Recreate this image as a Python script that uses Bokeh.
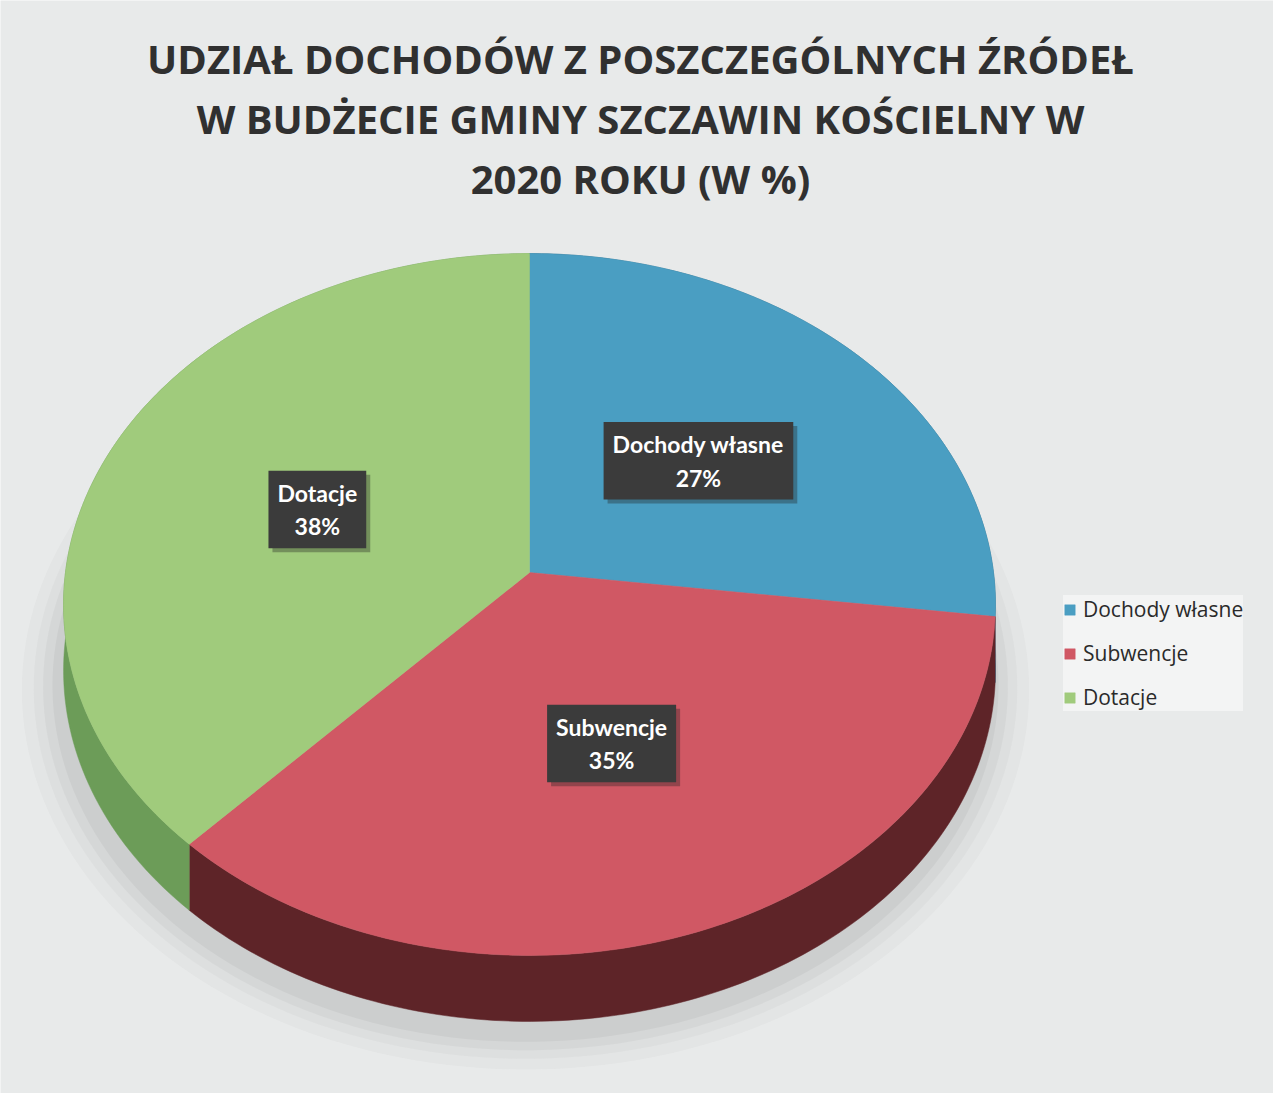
import numpy as np
from bokeh.plotting import figure
from bokeh.models import Range1d, ColumnDataSource, Label, Legend, LegendItem
from bokeh.core.properties import value
from bokeh.embed import file_html
from bokeh.resources import INLINE

# ---- data ----
categories = ["Dochody własne", "Subwencje", "Dotacje"]
shares = [27, 35, 38]
top_colors = ["#4a9ec2", "#d05864", "#a0cb7c"]
side_colors = ["#2f6a86", "#5e2428", "#6c9c58"]
title_lines = ["UDZIAŁ DOCHODÓW Z POSZCZEGÓLNYCH ŹRÓDEŁ",
               "W BUDŻECIE GMINY SZCZAWIN KOŚCIELNY W",
               "2020 ROKU (W %)"]

W, H = 1273, 1093
p = figure(width=W, height=H, output_backend="svg", toolbar_location=None,
           x_range=Range1d(0, W), y_range=Range1d(H, 0),
           min_border=0, background_fill_color="#e8eaea", border_fill_color="#e8eaea")
p.axis.visible = False
p.grid.visible = False
p.outline_line_color = None

# perspective geometry of the 3D pie
cx, cy = 529, 572
A, B, k = 348, 464, 0.0912
D = 66

def proj(u, v, r=1.0):
    f = 1 + k * v * r
    return cx + u * r * B / f, cy - v * r * A / f

fr = np.array(shares, dtype=float) / sum(shares)
ends = np.cumsum(fr) * 2 * np.pi
starts = ends - fr * 2 * np.pi

# soft shadow beneath the pie
tt = np.linspace(0, 2 * np.pi, 200)
for grow, alpha in [(1.08, 0.05), (1.055, 0.06), (1.035, 0.08), (1.015, 0.10)]:
    sx, sy = proj(np.sin(tt) * grow, np.cos(tt) * grow)
    p.patch(sx - 4, sy + D + 14, fill_color="#808080", fill_alpha=alpha, line_color=None)

# sides
for s, e, c in zip(starts, ends, side_colors):
    t = np.linspace(s, e, 120)
    x, y = proj(np.sin(t), np.cos(t))
    xs = np.concatenate([x, x[::-1]])
    ys = np.concatenate([y, (y + D)[::-1]])
    p.patch(xs, ys, fill_color=c, line_color=c, line_width=0.5)

# tops
top_renderers = []
for s, e, c in zip(starts, ends, top_colors):
    t = np.linspace(s, e, 160)
    x, y = proj(np.sin(t), np.cos(t))
    xs = np.concatenate([[cx], x])
    ys = np.concatenate([[cy], y])
    r = p.patch(xs, ys, fill_color=c, line_color=c, line_width=0.5)
    top_renderers.append(r)

# data labels
mids = (starts + ends) / 2
lx, ly = proj(np.sin(mids), np.cos(mids), 0.5)
texts = [f"{c}\n{v}%" for c, v in zip(categories, shares)]
src = ColumnDataSource(dict(x=lx, y=ly, t=texts))
common = dict(x="x", y="y", text="t", source=src, text_align="center", text_baseline="middle",
              text_font=value("Lato"), text_font_style="bold", text_font_size="23px",
              padding=[9, 8], text_line_height=1.2)
p.text(text_alpha=0.0, background_fill_color="#202020", background_fill_alpha=0.35,
       x_offset=4, y_offset=4, **common)
p.text(text_color="white", background_fill_color="#3b3b3b", **common)

# title
for i, line in enumerate(title_lines):
    p.add_layout(Label(x=640, y=58 + i * 60, text=line, text_align="center", text_baseline="middle",
                       text_font="Open Sans", text_font_style="bold", text_font_size="40px",
                       text_color="#303030"))

# legend
legend = Legend(items=[LegendItem(label=c, renderers=[r]) for c, r in zip(categories, top_renderers)],
                location=(1063, 1093 - 711), background_fill_color="#f3f4f4", background_fill_alpha=1.0,
                border_line_color=None, label_text_font="Open Sans", label_text_font_size="21px",
                label_text_color="#2a2a2a", glyph_width=13, glyph_height=13, spacing=16,
                label_height=22, padding=13, margin=0, label_standoff=7)
p.add_layout(legend, "center")

open("out.html", "w").write(file_html(p, INLINE))
